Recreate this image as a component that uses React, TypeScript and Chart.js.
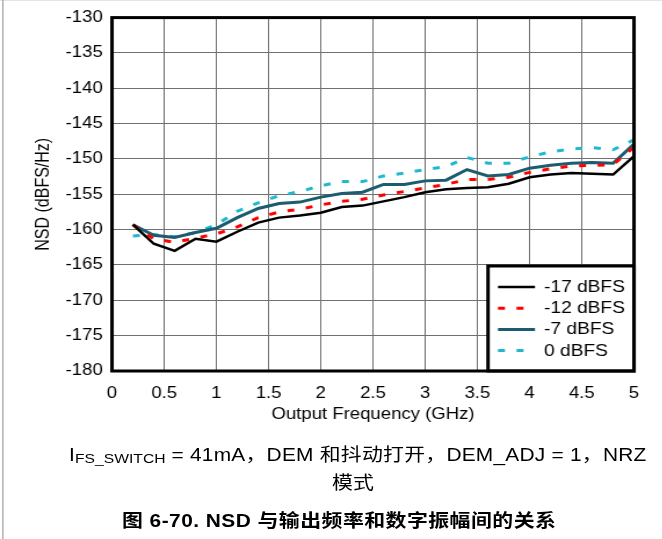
import React, { useEffect, useRef } from "react";
import { Chart, registerables } from "chart.js";

Chart.register(...registerables);

// ---------- data ----------
const freqGHz = [0.2, 0.4, 0.6, 0.8, 1.0, 1.2, 1.4, 1.6, 1.8, 2.0, 2.2, 2.4, 2.6, 2.8, 3.0, 3.2, 3.4, 3.6, 3.8, 4.0, 4.2, 4.4, 4.6, 4.8, 5.0];
const nsdMinus17 = [-159.3, -162.0, -163.0, -161.3, -161.7, -160.3, -159.0, -158.3, -158.0, -157.6, -156.8, -156.6, -156.0, -155.4, -154.7, -154.3, -154.1, -154.0, -153.5, -152.6, -152.2, -152.0, -152.1, -152.2, -149.6];
const nsdMinus12 = [-159.3, -161.3, -161.8, -161.2, -160.6, -159.6, -158.3, -157.5, -157.1, -156.5, -156.0, -155.7, -155.1, -154.6, -154.1, -153.6, -152.9, -152.9, -152.6, -151.9, -151.4, -151.0, -150.9, -150.8, -148.3];
const nsdMinus7 = [-159.3, -160.8, -161.1, -160.4, -159.8, -158.3, -157.0, -156.3, -156.1, -155.4, -154.9, -154.7, -153.6, -153.6, -153.1, -153.0, -151.5, -152.4, -152.2, -151.3, -150.9, -150.6, -150.5, -150.6, -147.9];
const nsd0 = [-160.9, -160.7, -161.0, -160.4, -159.3, -157.4, -156.2, -155.2, -154.6, -153.8, -153.2, -153.2, -152.4, -152.0, -151.5, -151.1, -149.8, -150.6, -150.6, -149.7, -149.0, -148.6, -148.4, -148.7, -147.3];
const seriesLabels = ["-17 dBFS", "-12 dBFS", "-7 dBFS", "0 dBFS"];
const xTicks = [0, 0.5, 1, 1.5, 2, 2.5, 3, 3.5, 4, 4.5, 5];
const yTicks = [-180, -175, -170, -165, -160, -155, -150, -145, -140, -135, -130];
const xAxisTitle = "Output Frequency (GHz)";
const yAxisTitle = "NSD (dBFS/Hz)";
const captionSub = "FS_SWITCH";
const captionRest = " = 41mA，DEM 和抖动打开，DEM_ADJ = 1，NRZ";
const captionLine2 = "模式";
const figureTitle = "图 6-70. NSD 与输出频率和数字振幅间的关系";

// ---------- layout ----------
const SX = 1.16; // horizontal stretch of the reference picture
const W = Math.round(662 / SX);
const CH = 430;
const LATIN = "'Liberation Sans', Arial, sans-serif";
const MIXED = "'Liberation Sans', Arial, 'Noto Sans CJK SC', sans-serif";

const overlayPlugin = {
  id: "overlay",
  afterDatasetsDraw(chart: any) {
    const { ctx, chartArea: a } = chart;
    ctx.save();
    const bx = 488 / SX;
    const by = 266;
    ctx.fillStyle = "#fff";
    ctx.fillRect(bx, by, a.right - bx, a.bottom - by);
    ctx.lineWidth = 3;
    ctx.strokeStyle = "#000";
    ctx.setLineDash([]);
    ctx.strokeRect(bx, by, a.right - bx, a.bottom - by);
    chart.data.datasets.forEach((ds: any, i: number) => {
      const y = by + 21 + i * 21.2;
      ctx.beginPath();
      ctx.setLineDash(ds.borderDash || []);
      ctx.lineWidth = ds.borderWidth;
      ctx.strokeStyle = ds.borderColor;
      ctx.moveTo(498 / SX, y);
      ctx.lineTo(535 / SX, y);
      ctx.stroke();
      ctx.setLineDash([]);
      ctx.fillStyle = "#000";
      ctx.font = `16.5px ${LATIN}`;
      ctx.textBaseline = "middle";
      ctx.textAlign = "left";
      ctx.fillText(ds.label, 544 / SX, y + 0.5);
    });
    ctx.lineWidth = 3;
    ctx.strokeStyle = "#000";
    ctx.strokeRect(a.left, a.top, a.right - a.left, a.bottom - a.top);
    ctx.restore();
  },
};

export default function App() {
  const ref = useRef<HTMLCanvasElement | null>(null);

  useEffect(() => {
    if (!ref.current) return;
    const mk = (ys: number[]) => freqGHz.map((x, i) => ({ x, y: ys[i] }));
    const tickFont = { family: LATIN, size: 16 };
    const chart = new Chart(ref.current, {
      type: "line",
      data: {
        datasets: [
          { label: seriesLabels[0], data: mk(nsdMinus17), borderColor: "#000000", borderWidth: 2.5, pointRadius: 0, tension: 0, fill: false },
          { label: seriesLabels[1], data: mk(nsdMinus12), borderColor: "#ff0000", borderWidth: 3, borderDash: [6, 10], pointRadius: 0, tension: 0, fill: false },
          { label: seriesLabels[2], data: mk(nsdMinus7), borderColor: "#1b5c6e", borderWidth: 3, pointRadius: 0, tension: 0, fill: false },
          { label: seriesLabels[3], data: mk(nsd0), borderColor: "#1fb8cc", borderWidth: 3, borderDash: [6, 10], pointRadius: 0, tension: 0, fill: false },
        ],
      },
      options: {
        responsive: false,
        animation: false,
        events: [],
        layout: { padding: { left: 0, top: 17, right: W - 634 / SX, bottom: 0 } },
        plugins: { legend: { display: false }, tooltip: { enabled: false } },
        scales: {
          x: {
            type: "linear",
            min: xTicks[0],
            max: xTicks[xTicks.length - 1],
            afterBuildTicks: (s: any) => {
              s.ticks = xTicks.map((v) => ({ value: v }));
            },
            afterFit: (s: any) => {
              s.height = CH - 371;
            },
            ticks: { font: tickFont, color: "#000", padding: 13, maxRotation: 0, autoSkip: false, callback: (v: any) => String(v) },
            grid: { color: "#6f6f6f", lineWidth: 1, drawTicks: false },
            border: { display: false },
            title: { display: true, text: xAxisTitle, font: tickFont, color: "#000", padding: { top: 0, bottom: 6 } },
          },
          y: {
            type: "linear",
            min: yTicks[0],
            max: yTicks[yTicks.length - 1],
            afterBuildTicks: (s: any) => {
              s.ticks = yTicks.map((v) => ({ value: v }));
            },
            afterFit: (s: any) => {
              s.width = 112 / SX;
            },
            ticks: { font: tickFont, color: "#000", padding: 8, autoSkip: false, callback: (v: any) => String(v) },
            grid: { color: "#6f6f6f", lineWidth: 1, drawTicks: false },
            border: { display: false },
            title: { display: true, text: yAxisTitle, font: tickFont, color: "#000", padding: { top: 28, bottom: 0 } },
          },
        },
      },
      plugins: [overlayPlugin],
    } as any);
    return () => chart.destroy();
  }, []);

  return (
    <div style={{ position: "absolute", left: 0, top: 0, width: 662, height: 539, overflow: "hidden", background: "#fff" }}>
      <div style={{ position: "absolute", left: 0, top: 0, width: W, height: 539, transform: `scaleX(${SX})`, transformOrigin: "0 0" }}>
        <div style={{ position: "absolute", left: 0, top: 0, width: W, height: 1, background: "#e4e4e4" }} />
        <div style={{ position: "absolute", left: 2 / SX, top: 0, width: 2 / SX, height: 539, background: "#9a9a9a" }} />
        <canvas ref={ref} width={W} height={CH} style={{ position: "absolute", left: 0, top: 0 }} />
        <div style={{ position: "absolute", left: 69 / SX, top: 446, whiteSpace: "nowrap", fontFamily: MIXED, fontSize: 18, lineHeight: "18px", letterSpacing: 0.2, color: "#000" }}>
          I<span style={{ fontSize: 13.5, verticalAlign: -2, letterSpacing: 0 }}>{captionSub}</span>
          {captionRest}
        </div>
        <div style={{ position: "absolute", left: 0, width: 706 / SX, top: 474, textAlign: "center", whiteSpace: "nowrap", fontFamily: MIXED, fontSize: 18, lineHeight: "18px", color: "#000" }}>
          {captionLine2}
        </div>
        <div style={{ position: "absolute", left: 122 / SX, top: 512, whiteSpace: "nowrap", fontFamily: MIXED, fontSize: 18, fontWeight: 700, lineHeight: "18px", letterSpacing: 0.4, color: "#000" }}>
          {figureTitle}
        </div>
      </div>
    </div>
  );
}
